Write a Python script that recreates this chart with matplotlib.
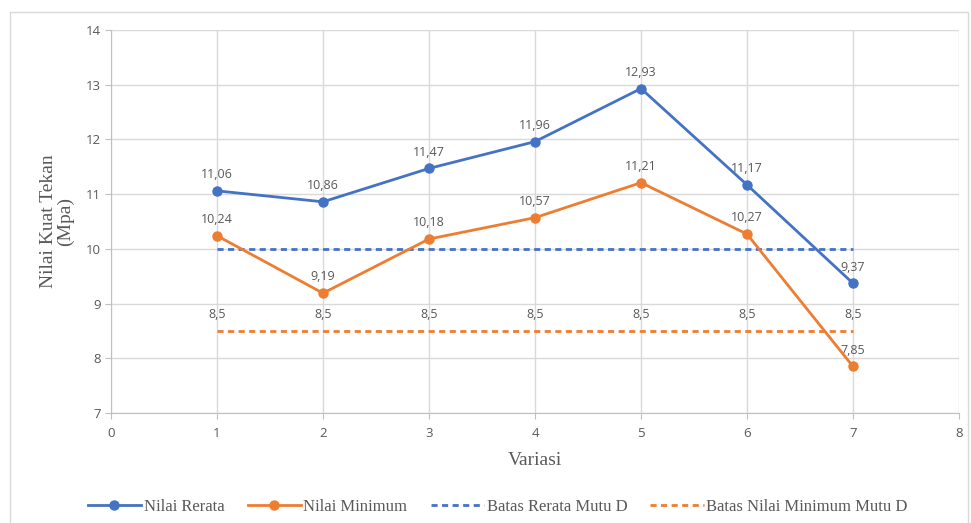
import matplotlib.pyplot as plt
from matplotlib.patches import Rectangle

variasi = [1, 2, 3, 4, 5, 6, 7]
nilai_rerata = [11.06, 10.86, 11.47, 11.96, 12.93, 11.17, 9.37]
nilai_minimum = [10.24, 9.19, 10.18, 10.57, 11.21, 10.27, 7.85]
batas_rerata = [10, 10, 10, 10, 10, 10, 10]
batas_minimum = [8.5, 8.5, 8.5, 8.5, 8.5, 8.5, 8.5]

biru = '#4472C4'
oranye = '#ED7D31'
abu = '#595959'

def fmt(v):
    return ('%g' % v).replace('.', ',')

fig = plt.figure(figsize=(9.71, 5.23), dpi=100)
fig.patches.append(Rectangle((10/971, -0.01), 958/971, 1 - 12/523 + 0.01,
                             transform=fig.transFigure, fill=False,
                             edgecolor='#D9D9D9', linewidth=1))
ax = fig.add_axes([111/971, 1 - 413/523, 848/971, 383/523])

ax.plot(variasi, nilai_rerata, color=biru, lw=2, marker='o', ms=6.5, label='Nilai Rerata', zorder=4)
ax.plot(variasi, nilai_minimum, color=oranye, lw=2, marker='o', ms=6.5, label='Nilai Minimum', zorder=4)
ax.plot(variasi, batas_rerata, color=biru, lw=2, ls=(0, (2.2, 1.6)), label='Batas Rerata Mutu D', zorder=3)
ax.plot(variasi, batas_minimum, color=oranye, lw=2, ls=(0, (2.2, 1.6)), label='Batas Nilai Minimum Mutu D', zorder=3)

lbl = dict(textcoords='offset points', ha='center', va='bottom', fontsize=9,
           color=abu, family='Open Sans')
for x, a, b, c in zip(variasi, nilai_rerata, nilai_minimum, batas_minimum):
    ax.annotate(fmt(a), (x, a), xytext=(0, 7), **lbl)
    ax.annotate(fmt(b), (x, b), xytext=(0, 7), **lbl)
    ax.annotate(fmt(c), (x, c), xytext=(0, 7), **lbl)

ax.set_xlim(0, 8)
ax.set_ylim(7, 14)
ax.set_xticks(range(0, 9))
ax.set_yticks(range(7, 15))
ax.grid(True, color='#D9D9D9', lw=1)
ax.set_axisbelow(True)
for s in ['top', 'right']:
    ax.spines[s].set_visible(False)
for s in ['left', 'bottom']:
    ax.spines[s].set_color('#BFBFBF')
ax.tick_params(colors='#BFBFBF', labelcolor=abu, labelsize=9.5, length=4)
for t in ax.get_xticklabels() + ax.get_yticklabels():
    t.set_family('Open Sans')
ax.tick_params(axis='x', pad=6)

ax.set_xlabel('Variasi', family='Liberation Serif', fontsize=14, color=abu, labelpad=9)
ax.set_ylabel('Nilai Kuat Tekan\n(Mpa)', family='Liberation Serif', fontsize=14,
              color=abu, labelpad=8, linespacing=1.0)

ax.legend(loc='center', bbox_to_anchor=(0.456, -0.245), ncol=4, frameon=False,
          prop={'family': 'Liberation Serif', 'size': 12}, labelcolor=abu,
          handlelength=3.2, handletextpad=0.15, columnspacing=1.4)

fig.savefig('out.png', dpi=100)
